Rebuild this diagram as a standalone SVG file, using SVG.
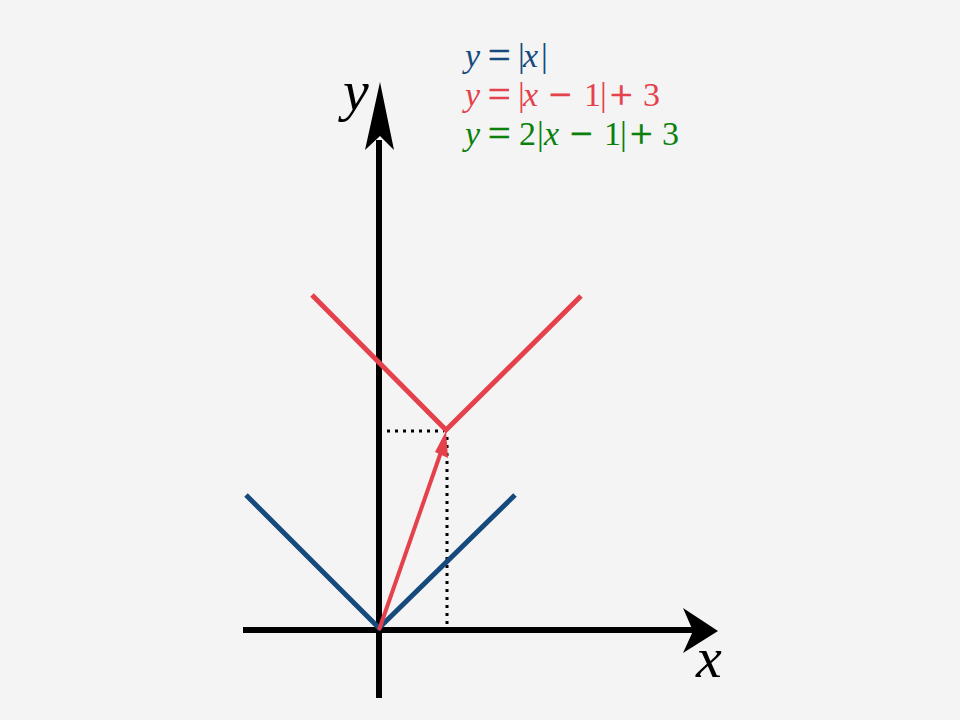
<svg xmlns="http://www.w3.org/2000/svg" width="960" height="720" viewBox="0 0 960 720">
<style>
.m{font-family:"Liberation Serif","Times New Roman",serif;font-size:34px}
.i{font-style:italic}
.o{font-size:40px;stroke-width:0.7px}
.ax{font-family:"Liberation Serif","Times New Roman",serif;font-size:58px;font-style:italic;fill:#000}
.b{fill:#174a7c;stroke:#174a7c;stroke-width:0}.r{fill:#e5414c;stroke:#e5414c;stroke-width:0}.g{fill:#0b800b;stroke:#0b800b;stroke-width:0}
</style>
<rect width="960" height="720" fill="#f4f4f4"/>
<g id="connectors">
<g id="dotted" stroke="#000" stroke-width="3" stroke-dasharray="3,5" fill="none">
<path d="M387 431H444"/>
<path d="M447 437V625"/>
</g>
<g id="x-axis">
<path d="M243 630H696" stroke="#000" stroke-width="6"/>
<polygon points="718,631 683,608 693,631 683,653" fill="#000"/>
</g>
<g id="y-axis">
<path d="M379 698V140" stroke="#000" stroke-width="6"/>
<polygon points="380,82 365,150 380,136 394,150" fill="#000"/>
</g>
<g id="blue-graph">
<polyline points="246,495 379,628 515,495" fill="none" stroke="#174a7c" stroke-width="5"/>
</g>
<g id="red-graph">
<polyline points="312,295 446,430 581,296" fill="none" stroke="#e5414c" stroke-width="5"/>
</g>
<g id="red-arrow">
<path d="M379 630L441 452" stroke="#e5414c" stroke-width="4"/>
<polygon points="446,431 448,458 435,452" fill="#e5414c"/>
</g>
</g>
<g id="labels">
<text class="ax" x="343" y="110">y</text>
<text class="ax" x="696" y="677">x</text>
</g>
<g id="legend">
<text class="m b"><tspan class="i" x="465" y="67">y</tspan><tspan class="o" x="488" y="68.5">=</tspan><tspan x="518" y="67">|</tspan><tspan class="i" x="523" y="67">x</tspan><tspan x="541" y="67">|</tspan></text>
<text class="m r"><tspan class="i" x="465" y="106">y</tspan><tspan class="o" x="488" y="107.5">=</tspan><tspan x="518" y="106">|</tspan><tspan class="i" x="523" y="106">x</tspan><tspan class="o" x="549" y="107.5">−</tspan><tspan x="584" y="106">1</tspan><tspan x="600" y="106">|</tspan><tspan class="o" x="610" y="107.5">+</tspan><tspan x="643" y="106">3</tspan></text>
<text class="m g"><tspan class="i" x="465" y="145">y</tspan><tspan class="o" x="488" y="146.5">=</tspan><tspan x="519" y="145">2</tspan><tspan x="537" y="145">|</tspan><tspan class="i" x="544" y="145">x</tspan><tspan class="o" x="570" y="146.5">−</tspan><tspan x="604" y="145">1</tspan><tspan x="620" y="145">|</tspan><tspan class="o" x="630" y="146.5">+</tspan><tspan x="662" y="145">3</tspan></text>
</g>
</svg>
